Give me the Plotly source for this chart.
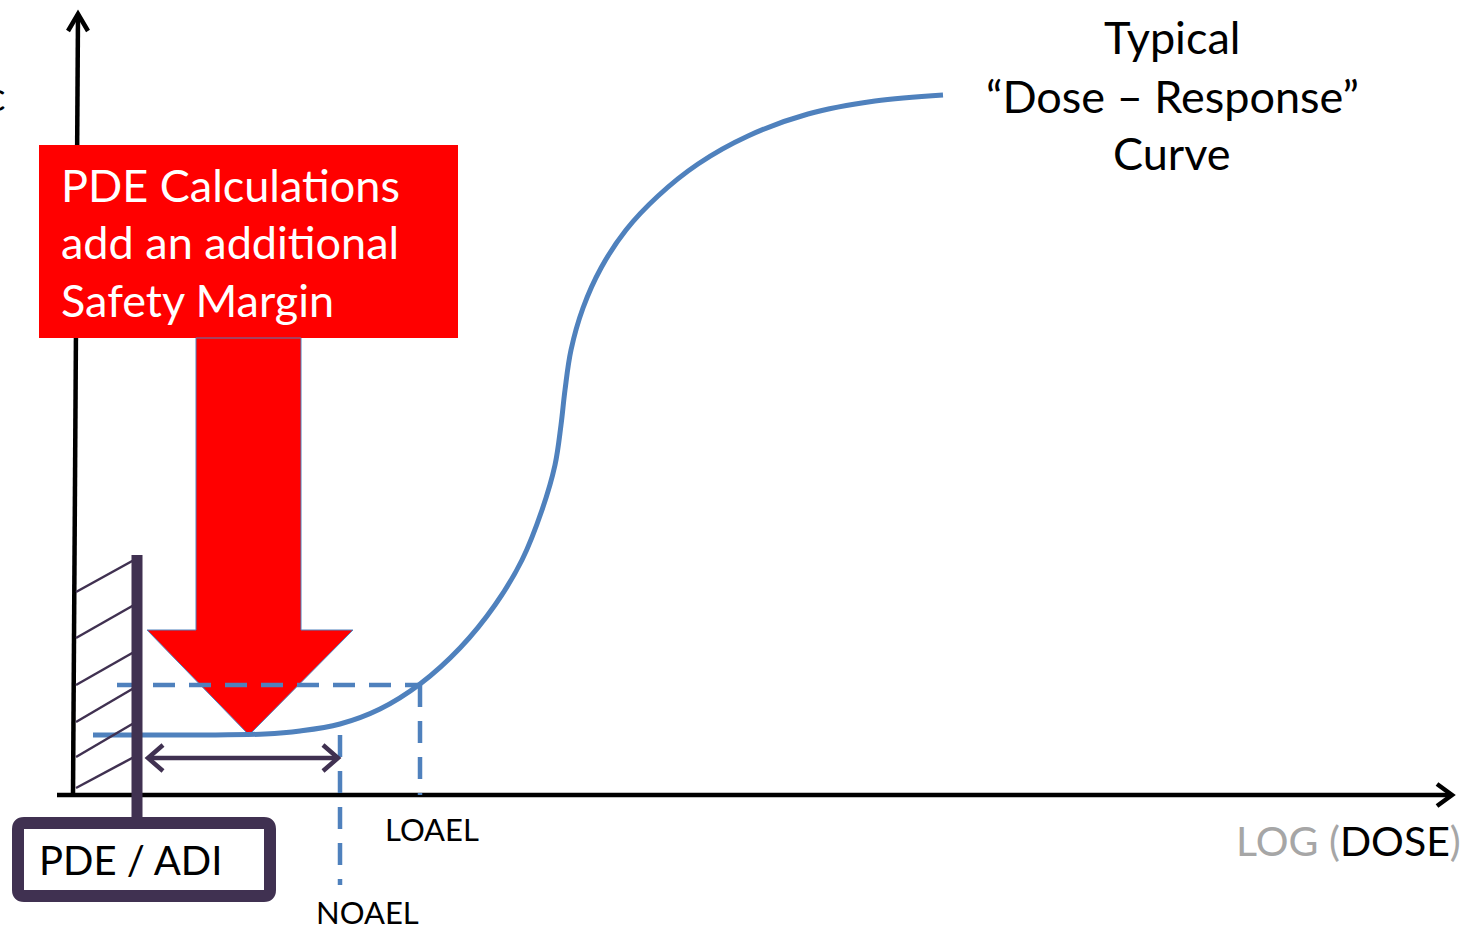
import plotly.graph_objects as go

W, H = 1475, 931
FONT = "Lato"
BLUE = "#4F81BD"
PURPLE = "#403151"
RED = "#FF0000"

# Typical dose-response curve (log dose on x, response on y; screen units)
curve_x = [93, 200, 265, 300, 340, 380, 420, 460, 495, 522, 542, 555, 561, 565, 571, 583, 601, 626, 658, 698, 748, 808, 875, 943]
curve_y = [735, 735, 734, 731, 724, 709, 684, 648, 605, 560, 510, 465, 425, 390, 350, 308, 268, 230, 196, 164, 136, 114, 101, 95]

# Axes of the diagram
yaxis_x = [73, 78]
yaxis_y = [795, 14]
xaxis_x = [57, 1452]
xaxis_y = [795, 795]

# Reference levels
noael_x, loael_x = 340, 420
noael_y, loael_y = 735, 685
pde_x = 137

# Hatching left of the PDE limit
hatch_y0 = [592, 638, 685, 722, 757, 788]
hatch_y1 = [560, 605, 652, 688, 723, 757]

# Red arrow: shaft and head
arrow_x = [196, 301, 301, 353, 249, 147, 196, 196]
arrow_y = [338, 338, 630, 630, 735, 630, 630, 338]

box_lines = ["PDE Calculations", "add an additional", "Safety Margin"]
box_line_y = [185, 242, 300]
title_lines = ["Typical", "\u201cDose \u2013 Response\u201d", "Curve"]
title_line_y = [37, 96, 153]

fig = go.Figure()


def line(xs, ys, color, width, dash="solid"):
    fig.add_trace(go.Scatter(x=xs, y=ys, mode="lines", hoverinfo="skip",
                             line=dict(color=color, width=width, dash=dash)))


# y axis with arrowhead
line(yaxis_x, yaxis_y, "black", 4.5)
line([68, yaxis_x[1], 88], [31, yaxis_y[1], 31], "black", 4.5)
# x axis with arrowhead
line(xaxis_x, xaxis_y, "black", 4.5)
line([1437, xaxis_x[1], 1437], [784, 795, 806], "black", 4.5)

# red callout box
fig.add_trace(go.Scatter(x=[39, 458, 458, 39, 39], y=[145, 145, 338, 338, 145], mode="lines",
                         fill="toself", fillcolor=RED, line=dict(color=RED, width=0), hoverinfo="skip"))
# red arrow
fig.add_trace(go.Scatter(x=arrow_x, y=arrow_y, mode="lines", fill="toself", fillcolor=RED,
                         line=dict(color=BLUE, width=1), hoverinfo="skip"))

# dashed guide lines for NOAEL / LOAEL
line([117, loael_x], [loael_y, loael_y], BLUE, 4.5, "22px,14px")
line([loael_x, loael_x], [loael_y, 795], BLUE, 4.5, "22px,14px")
line([noael_x, noael_x], [noael_y, 885], BLUE, 4.5, "22px,14px")

# dose-response curve
fig.add_trace(go.Scatter(x=curve_x, y=curve_y, mode="lines", hoverinfo="skip",
                         line=dict(color=BLUE, width=5, shape="spline", smoothing=1.0)))

# hatching
for a, b in zip(hatch_y0, hatch_y1):
    line([76, 134], [a, b], PURPLE, 2.5)

# PDE limit bar
line([pde_x, pde_x], [555, 830], PURPLE, 11)

# double-headed arrow between PDE and NOAEL
line([148, noael_x - 2], [758, 758], PURPLE, 4.5)
line([163, 148, 163], [745, 758, 771], PURPLE, 4.5)
line([noael_x - 17, noael_x - 2, noael_x - 17], [745, 758, 771], PURPLE, 4.5)

# PDE / ADI label box
fig.add_shape(type="path", xref="x", yref="y",
              path="M 24,823 L 264,823 Q 270,823 270,829 L 270,890 Q 270,896 264,896 "
                   "L 24,896 Q 18,896 18,890 L 18,829 Q 18,823 24,823 Z",
              line=dict(color=PURPLE, width=12), fillcolor="white")

annotations = []
for t, y in zip(box_lines, box_line_y):
    annotations.append(dict(x=59, y=y, text=t, xanchor="left", yanchor="middle",
                            font=dict(family=FONT, size=45, color="white")))
for t, y in zip(title_lines, title_line_y):
    annotations.append(dict(x=1172, y=y, text=t, xanchor="center", yanchor="middle",
                            font=dict(family=FONT, size=45, color="black")))
annotations += [
    dict(x=37, y=860, text="PDE / ADI", xanchor="left", yanchor="middle",
         font=dict(family=FONT, size=40, color="black")),
    dict(x=383, y=829, text="LOAEL", xanchor="left", yanchor="middle",
         font=dict(family=FONT, size=31, color="black")),
    dict(x=314, y=912, text="NOAEL", xanchor="left", yanchor="middle",
         font=dict(family=FONT, size=31, color="black")),
    dict(x=1463, y=840, text="<span style='color:#A6A6A6'>LOG (</span>DOSE<span style='color:#A6A6A6'>)</span>",
         xanchor="right", yanchor="middle", font=dict(family=FONT, size=41, color="black")),
    dict(x=8, y=95, text="c", xanchor="right", yanchor="middle",
         font=dict(family=FONT, size=41, color="black")),
]
for a in annotations:
    a.update(xref="x", yref="y", showarrow=False)

fig.update_layout(
    width=W, height=H, margin=dict(l=0, r=0, t=0, b=0),
    paper_bgcolor="white", plot_bgcolor="white", showlegend=False,
    xaxis=dict(range=[0, W], visible=False, fixedrange=True),
    yaxis=dict(range=[H, 0], visible=False, fixedrange=True),
    annotations=annotations,
)

fig.write_html("out.html", config={"displayModeBar": False})
